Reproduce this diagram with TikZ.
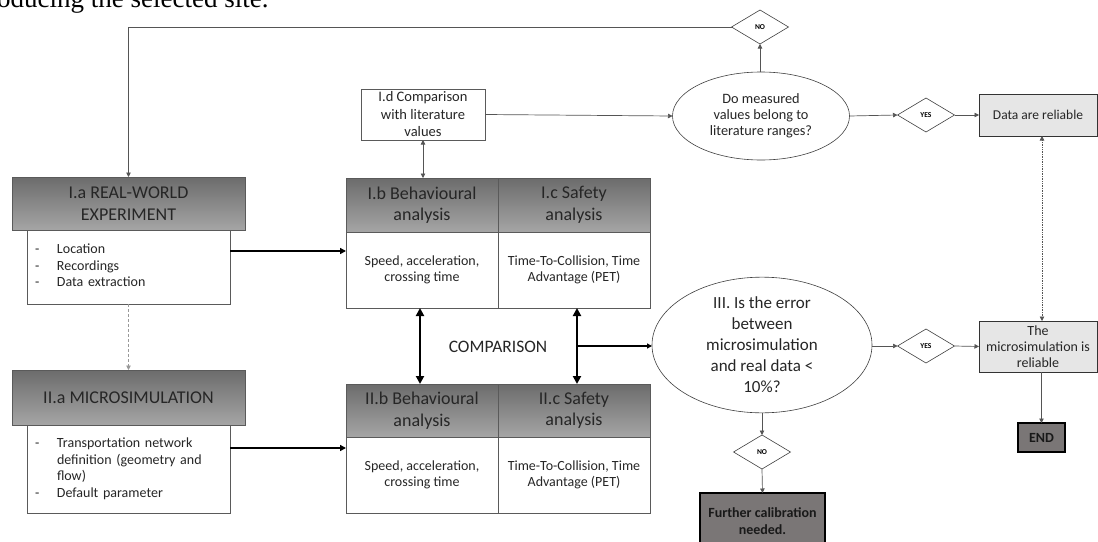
\documentclass[tikz,border=0pt]{standalone}
\usepackage{fontspec}
\setmainfont{Carlito}
\newfontfamily\capserif{Liberation Serif}
\usetikzlibrary{arrows.meta,shapes.geometric}
\definecolor{hdtop}{RGB}{108,108,108}
\definecolor{hdbot}{RGB}{165,165,165}
\definecolor{lnc}{RGB}{85,85,85}
\definecolor{boxc}{RGB}{90,90,90}
\definecolor{endfill}{RGB}{122,118,118}
\definecolor{lightfill}{RGB}{230,230,230}
\tikzset{
  hdr/.style={draw=boxc, line width=0.6pt, top color=hdtop, bottom color=hdbot, inner sep=1pt, outer sep=0pt, align=center, font=\fontsize{18}{21.5}\selectfont, text=black!85},
  bodybox/.style={draw=boxc, line width=0.6pt, fill=white, inner sep=1pt, outer sep=0pt, align=center, font=\fontsize{14}{16}\selectfont, text=black!85},
  graybox/.style={draw=black!80, line width=0.8pt, fill=lightfill, inner sep=1pt, outer sep=0pt, align=center, font=\fontsize{14}{16}\selectfont, text=black!85},
  darkbox/.style={draw=black, line width=1.6pt, fill=endfill, inner sep=1pt, outer sep=0pt, align=center, font=\bfseries\fontsize{14}{17}\selectfont, text=black!90},
  decision/.style={ellipse, draw=black!75, line width=0.6pt, fill=white, inner sep=0pt, outer sep=0pt, align=center, text=black!85},
  choice/.style={diamond, draw=black!75, line width=0.6pt, fill=white, aspect=1.7, minimum width=57, minimum height=34, inner sep=0pt, outer sep=0pt, font=\bfseries\fontsize{7.5}{8}\selectfont},
  ln/.style={draw=lnc, line width=0.7pt},
  tip/.style={-{Triangle[length=4.5pt,width=4.5pt]}},
  dtip/.style={{Triangle[length=4.5pt,width=4.5pt]}-{Triangle[length=4.5pt,width=4.5pt]}},
  thk/.style={draw=black, line width=2.2pt, -{Triangle[length=6pt,width=6pt]}},
  thkd/.style={draw=black, line width=2.6pt, {Triangle[length=8pt,width=8pt]}-{Triangle[length=8pt,width=8pt]}},
  mid/.style={draw=black, line width=1.3pt, -{Triangle[length=5pt,width=5pt]}},
}
\begin{document}
\begin{tikzpicture}[x=1pt,y=-1pt]
\useasboundingbox (0,0) rectangle (1098,541);
\fill[white] (0,0) rectangle (1098,541);

% cropped caption line at the top
\node[anchor=base west, inner sep=0pt, font=\capserif\fontsize{27}{30}\selectfont] (cap) at (-3,7.5) {oducing the selected site.};

% left column
\node[hdr, minimum width=233, minimum height=53] (Iah) at (128.5,203.5) {I.a REAL-WORLD\\EXPERIMENT};
\node[bodybox, minimum height=74, text width=187, inner xsep=8pt, align=left, font=\fontsize{14}{16.5}\selectfont] (Iab) at (128.5,267)
  {\begin{tabular}{@{}p{22pt}@{}l@{}}-&Location\\-&Recordings\\-&Data extraction\end{tabular}};
\node[hdr, minimum width=233, minimum height=55] (IIah) at (128.5,397.5) {II.a MICROSIMULATION};
\node[bodybox, minimum height=88, text width=187, inner xsep=8pt, align=left, font=\fontsize{14}{16.5}\selectfont] (IIab) at (128.5,469)
  {\raisebox{-4pt}{\begin{tabular}{@{}p{22pt}@{}l@{}}-&Transportation network\\&definition (geometry and\\&flow)\\-&Default parameter\end{tabular}}};

% middle tables
\node[hdr, minimum width=152, minimum height=54] (Ibh) at (422,205) {I.b Behavioural\\analysis};
\node[hdr, minimum width=152, minimum height=54] (Ich) at (574,205) {I.c Safety\\analysis};
\node[bodybox, minimum width=152, minimum height=76] (Ibb) at (422,270) {Speed, acceleration,\\crossing time};
\node[bodybox, minimum width=152, minimum height=76] (Icb) at (574,270) {Time-To-Collision, Time\\Advantage (PET)};
\node[hdr, minimum width=152, minimum height=53] (IIbh) at (422,410.5) {II.b Behavioural\\analysis};
\node[hdr, minimum width=152, minimum height=53] (IIch) at (574,410.5) {II.c Safety\\analysis};
\node[bodybox, minimum width=152, minimum height=76] (IIbb) at (422,475) {Speed, acceleration,\\crossing time};
\node[bodybox, minimum width=152, minimum height=76] (IIcb) at (574,475) {Time-To-Collision, Time\\Advantage (PET)};

\node[bodybox, minimum width=124, minimum height=51, inner sep=0pt, font=\fontsize{14.5}{17.5}\selectfont] (Id) at (423,114.5) {I.d Comparison\\with literature\\values};

\node[inner sep=0pt, font=\fontsize{17.5}{20}\selectfont, text=black!85] (cmp) at (498,347) {COMPARISON};

% decisions
\node[decision, minimum width=177, minimum height=88, font=\fontsize{14.3}{16}\selectfont] (E1) at (761,116) {Do measured\\values belong to\\literature ranges?};
\node[choice] (NO1) at (760,27) {NO};
\node[choice] (YES1) at (926,115) {YES};
\node[graybox, minimum width=118, minimum height=42, font=\fontsize{13.5}{16}\selectfont] (Data) at (1038,115) {Data are reliable};

\node[decision, minimum width=220, minimum height=120, font=\fontsize{17}{21}\selectfont] (E2) at (762,345) {III. Is the error\\between\\microsimulation\\and real data \textless\\10\%?};
\node[choice] (YES2) at (926,346) {YES};
\node[graybox, minimum width=118, minimum height=51] (Micro) at (1038,346.5) {The\\microsimulation is\\reliable};
\node[darkbox, minimum width=47, minimum height=29] (End) at (1041.5,437.5) {END};
\node[choice] (NO2) at (762,452) {NO};
\node[darkbox, minimum width=125, minimum height=56, anchor=north] (Fur) at (762.5,493) {Further calibration\\needed.};

% connectors
\coordinate (tl) at (Iah.north |- NO1.west);
\draw[ln,tip] (NO1.west) -- (tl) -- (Iah.north);
\draw[ln,tip] (E1.north -| NO1.south) -- (NO1.south);
\draw[ln,tip] (Id.east) -- (E1.west);
\draw[ln,tip] (E1.east) -- (YES1.west);
\draw[ln,tip] (YES1.east) -- (Data.west);
\coordinate (dtop) at ([xshift=4pt]Data.south);
\coordinate (dbot) at ([xshift=4pt]Micro.north);
\draw[ln,densely dotted,dtip] (dtop) -- (dbot);
\draw[ln,tip] (End.north |- Micro.south) -- (End.north);
\draw[ln,tip] (E2.east |- YES2.west) -- (YES2.west);
\draw[ln,tip] (YES2.east) -- (Micro.west);
\draw[ln,tip] (E2.south) -- (NO2.north);
\draw[ln,tip] (NO2.south) -- (Fur.north);
\draw[ln,dtip] (Id.south) -- (Id.south |- Ibh.north);
\draw[ln,densely dashed,draw=gray!80,tip] (Iab.south) -- (IIah.north);
\coordinate (a1) at ([yshift=16pt]Iab.east);
\coordinate (a2) at ([yshift=21pt]IIab.east);
\draw[thk] (a1) -- (Ibb.west |- a1);
\draw[thk] (a2) -- (IIbb.west |- a2);
\coordinate (c1) at ([xshift=-2pt]Ibb.south);
\coordinate (c2) at ([xshift=-2pt]IIbh.north);
\coordinate (c3) at ([xshift=3pt]Icb.south);
\coordinate (c4) at ([xshift=3pt]IIch.north);
\draw[thkd] (c1) -- (c2);
\draw[thkd] (c3) -- (c4);
\coordinate (cmpstart) at (c3 |- YES2.west);
\draw[mid] (cmpstart) -- (E2.west |- cmpstart);
\end{tikzpicture}
\end{document}
